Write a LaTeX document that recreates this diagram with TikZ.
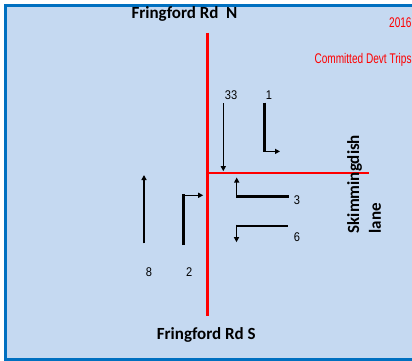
\documentclass[tikz,border=0pt]{standalone}
\usepackage{fontspec}
\setmainfont{Liberation Sans}
\newfontfamily\calibri{Carlito}
\usetikzlibrary{arrows.meta}
\definecolor{bgblue}{RGB}{197,217,241}
\definecolor{frameblue}{RGB}{0,112,192}
\definecolor{roadred}{RGB}{255,0,0}
\begin{document}
\begin{tikzpicture}[x=1pt,y=-1pt,
  frame/.style={draw=frameblue, line width=3pt, fill=bgblue},
  roadline/.style={draw=roadred},
  tipped/.style={-{Triangle[length=5pt,width=5pt]}},
  flowthin/.style={draw=black, line width=1.3pt, tipped},
  flowmid/.style={draw=black, line width=1.7pt, tipped},
  flowthick/.style={draw=black, line width=2.7pt},
  flowturn/.style={draw=black, line width=1.5pt, tipped},
  roadlabel/.style={font=\calibri\bfseries\fontsize{17}{21.7}\selectfont, inner sep=0pt},
  count/.style={font=\fontsize{12.6}{14}\selectfont, inner sep=0pt, anchor=base},
  redlabel/.style={text=roadred, font=\fontsize{14}{16}\selectfont, inner sep=0pt, anchor=base east}
]
\useasboundingbox (0,0) rectangle (412,361);
\clip (0,0) rectangle (412,361);
\path[frame] (5.5,5.3) rectangle (430,359.3);

% roads
\coordinate (rN) at (207.5,33);
\coordinate (rS) at (207.5,315.5);
\coordinate (rJ) at (207.5,172.5);
\coordinate (rE) at (368.5,172.5);
\draw[roadline, line width=3pt] (rN) -- (rS);
\draw[roadline, line width=2pt] (rJ) -- (rE);

% labels
\node[roadlabel, anchor=base] (lblN) at (184.5,18.3) {Fringford Rd\ \ N};
\node[roadlabel, anchor=base] (lblS) at (206.3,339) {Fringford Rd S};
\node[roadlabel, rotate=90, anchor=west, align=left] (lblE) at (364,233.5) {Skimmingdish\\lane};
\node[redlabel] (yr) at (411.8,27.3) {\scalebox{0.72}[1]{2016}};
\node[redlabel] (title) at (411.8,63.3) {\scalebox{0.72}[1]{Committed Devt Trips}};

% counts
\node[count] (c33) at (231,99) {\scalebox{0.88}[1]{33}};
\node[count] (c1) at (269,99) {\scalebox{0.88}[1]{1}};
\node[count] (c3) at (297,204.3) {\scalebox{0.88}[1]{3}};
\node[count] (c6) at (297,241) {\scalebox{0.88}[1]{6}};
\node[count] (c8) at (149,276.7) {\scalebox{0.88}[1]{8}};
\node[count] (c2) at (189.3,276.7) {\scalebox{0.88}[1]{2}};

% flow arrows
\coordinate (a33s) at (223.3,103.3);
\coordinate (a33e) at (223.3,171.2);
\draw[flowthin] (a33s) -- (a33e);

\coordinate (a1s) at (264.3,102.7);
\coordinate (a1c) at (264.3,152.4);
\coordinate (a1k) at (263,151.4);
\coordinate (a1e) at (280,151.4);
\draw[flowthick] (a1s) -- (a1c);
\draw[flowturn] (a1k) -- (a1e);

\coordinate (a8s) at (144,243.3);
\coordinate (a8e) at (144,175);
\draw[flowmid] (a8s) -- (a8e);

\coordinate (a2s) at (183.3,245);
\coordinate (a2c) at (183.3,194.3);
\coordinate (a2k) at (182,195.3);
\coordinate (a2e) at (203.2,195.3);
\draw[flowthick] (a2s) -- (a2c);
\draw[flowturn] (a2k) -- (a2e);

\coordinate (a3s) at (288.7,196.7);
\coordinate (a3c) at (236,196.7);
\coordinate (a3k) at (236.7,198);
\coordinate (a3e) at (236.7,177.5);
\draw[flowthick] (a3s) -- (a3c);
\draw[flowturn] (a3k) -- (a3e);

\coordinate (a6s) at (287.7,225.7);
\coordinate (a6c) at (235.7,225.7);
\coordinate (a6k) at (236.5,224.7);
\coordinate (a6e) at (236.5,242.2);
\draw[draw=black, line width=2pt] (a6s) -- (a6c);
\draw[flowturn] (a6k) -- (a6e);
\end{tikzpicture}
\end{document}
